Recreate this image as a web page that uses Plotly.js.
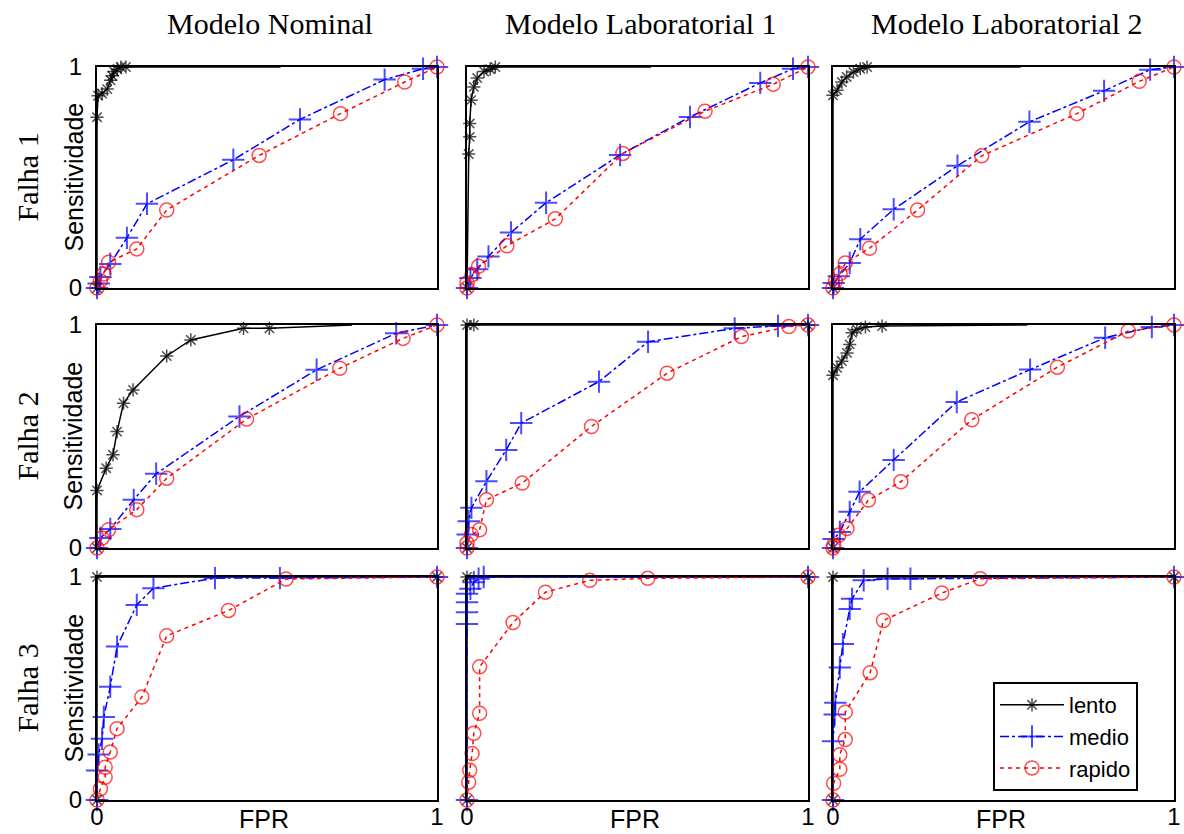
<!DOCTYPE html>
<html>
<head>
<meta charset="utf-8">
<script src="https://cdn.plot.ly/plotly-3.0.1.min.js"></script>
<style>html,body{margin:0;padding:0;background:#fff;}#chart{width:1184px;height:834px;}</style>
</head>
<body>
<div id="chart"></div>
<script>
// ---------- labels ----------
const modelTitles = ["Modelo Nominal", "Modelo Laboratorial 1", "Modelo Laboratorial 2"];
const faultLabels = ["Falha 1", "Falha 2", "Falha 3"];
const seriesNames = ["lento", "medio", "rapido"];
const tickVals = [0, 1];
const tickText = ["0", "1"];
const xTitle = "FPR";
const yTitle = "Sensitividade";

// ---------- data (FPR, Sensitividade) ----------
// Falha 1 - Modelo Nominal
const f1n_lento_x = [0, 0, 0.003, 0.015, 0.03, 0.04, 0.045, 0.05, 0.06, 0.07, 0.085, 0.54];
const f1n_lento_y = [0, 0.773, 0.87, 0.88, 0.90, 0.94, 0.96, 0.98, 0.99, 1, 1, 1];
const f1n_medio_x = [0, 0.005, 0.01, 0.039, 0.088, 0.147, 0.401, 0.597, 0.846, 0.959, 1];
const f1n_medio_y = [0, 0.02, 0.05, 0.109, 0.227, 0.381, 0.580, 0.763, 0.943, 0.992, 1];
const f1n_rapido_x = [0, 0.01, 0.02, 0.034, 0.117, 0.205, 0.477, 0.716, 0.905, 1];
const f1n_rapido_y = [0, 0.033, 0.063, 0.116, 0.177, 0.353, 0.600, 0.789, 0.932, 1];
// Falha 1 - Modelo Laboratorial 1
const f1l1_lento_x = [0, 0.005, 0.008, 0.008, 0.012, 0.02, 0.03, 0.05, 0.068, 0.083, 0.54];
const f1l1_lento_y = [0, 0.606, 0.684, 0.744, 0.85, 0.91, 0.95, 0.98, 0.99, 1, 1];
const f1l1_medio_x = [0, 0.01, 0.03, 0.063, 0.129, 0.232, 0.449, 0.654, 0.860, 0.956, 1];
const f1l1_medio_y = [0, 0.045, 0.085, 0.143, 0.251, 0.386, 0.602, 0.774, 0.928, 0.992, 1];
const f1l1_rapido_x = [0, 0, 0.015, 0.034, 0.117, 0.259, 0.457, 0.698, 0.898, 1];
const f1l1_rapido_y = [0, 0.023, 0.06, 0.098, 0.191, 0.313, 0.609, 0.80, 0.922, 1];
// Falha 1 - Modelo Laboratorial 2
const f1l2_lento_x = [0, 0, 0.012, 0.026, 0.04, 0.06, 0.08, 0.10, 0.55];
const f1l2_lento_y = [0, 0.872, 0.895, 0.932, 0.955, 0.977, 0.992, 1, 1];
const f1l2_medio_x = [0, 0.002, 0.017, 0.049, 0.08, 0.178, 0.365, 0.576, 0.795, 0.93, 1];
const f1l2_medio_y = [0, 0.023, 0.053, 0.113, 0.221, 0.356, 0.553, 0.752, 0.892, 0.988, 1];
const f1l2_rapido_x = [0, 0.007, 0.021, 0.036, 0.107, 0.248, 0.436, 0.715, 0.898, 1];
const f1l2_rapido_y = [0, 0.03, 0.065, 0.113, 0.18, 0.353, 0.598, 0.789, 0.935, 1];
// Falha 2 - Modelo Nominal
const f2n_lento_x = [0, 0, 0.027, 0.047, 0.059, 0.078, 0.106, 0.205, 0.276, 0.431, 0.507, 0.75];
const f2n_lento_y = [0, 0.258, 0.358, 0.418, 0.522, 0.649, 0.709, 0.861, 0.933, 0.985, 0.985, 1];
const f2n_medio_x = [0, 0.01, 0.039, 0.108, 0.174, 0.419, 0.646, 0.88, 1];
const f2n_medio_y = [0, 0.045, 0.085, 0.216, 0.333, 0.59, 0.799, 0.963, 1];
const f2n_rapido_x = [0, 0.015, 0.034, 0.117, 0.205, 0.44, 0.714, 0.90, 1];
const f2n_rapido_y = [0, 0.045, 0.082, 0.172, 0.313, 0.578, 0.806, 0.94, 1];
// Falha 2 - Modelo Laboratorial 1
const f2l1_lento_x = [0, 0, 0.02, 1];
const f2l1_lento_y = [0, 1, 1, 1];
const f2l1_medio_x = [0, 0.002, 0.005, 0.013, 0.057, 0.115, 0.159, 0.387, 0.531, 0.785, 0.912, 1];
const f2l1_medio_y = [0, 0.06, 0.12, 0.18, 0.299, 0.44, 0.56, 0.746, 0.925, 0.985, 0.996, 1];
const f2l1_rapido_x = [0, 0, 0.013, 0.037, 0.057, 0.162, 0.365, 0.587, 0.805, 0.944, 1];
const f2l1_rapido_y = [0, 0.022, 0.06, 0.082, 0.216, 0.291, 0.545, 0.784, 0.948, 0.993, 1];
// Falha 2 - Modelo Laboratorial 2
const f2l2_lento_x = [0, 0, 0.012, 0.026, 0.041, 0.049, 0.056, 0.07, 0.095, 0.144, 0.57];
const f2l2_lento_y = [0, 0.775, 0.808, 0.838, 0.875, 0.913, 0.965, 0.98, 0.991, 0.995, 1];
const f2l2_medio_x = [0, 0.002, 0.02, 0.049, 0.078, 0.178, 0.363, 0.578, 0.798, 0.935, 1];
const f2l2_medio_y = [0, 0.04, 0.072, 0.162, 0.252, 0.395, 0.655, 0.80, 0.943, 0.991, 1];
const f2l2_rapido_x = [0, 0.002, 0.017, 0.041, 0.104, 0.199, 0.407, 0.658, 0.866, 1];
const f2l2_rapido_y = [0, 0.012, 0.057, 0.087, 0.215, 0.297, 0.575, 0.811, 0.973, 1];
// Falha 3 - Modelo Nominal
const f3n_lento_x = [0, 0, 1];
const f3n_lento_y = [0, 1, 1];
const f3n_medio_x = [0, 0, 0.005, 0.015, 0.02, 0.039, 0.059, 0.117, 0.166, 0.347, 0.538, 1];
const f3n_medio_y = [0, 0.132, 0.204, 0.275, 0.372, 0.508, 0.688, 0.875, 0.95, 0.995, 0.995, 1];
const f3n_rapido_x = [0, 0.01, 0.024, 0.024, 0.039, 0.059, 0.132, 0.205, 0.387, 0.556, 1];
const f3n_rapido_y = [0, 0.05, 0.102, 0.147, 0.215, 0.32, 0.462, 0.736, 0.85, 0.991, 1];
// Falha 3 - Modelo Laboratorial 1
const f3l1_lento_x = [0, 0, 1];
const f3l1_lento_y = [0, 1, 1];
const f3l1_medio_x = [0, 0, 0, 0, 0, 0.01, 0.02, 0.034, 0.049, 1];
const f3l1_medio_y = [0, 0.789, 0.842, 0.887, 0.925, 0.947, 0.977, 0.992, 1, 1];
const f3l1_rapido_x = [0, 0.005, 0.008, 0.015, 0.02, 0.037, 0.037, 0.135, 0.23, 0.36, 0.53, 1];
const f3l1_rapido_y = [0, 0.08, 0.133, 0.208, 0.299, 0.389, 0.597, 0.796, 0.932, 0.985, 0.994, 1];
// Falha 3 - Modelo Laboratorial 2
const f3l2_lento_x = [0, 0, 1];
const f3l2_lento_y = [0, 1, 1];
const f3l2_medio_x = [0, 0, 0.005, 0.007, 0.02, 0.029, 0.049, 0.056, 0.09, 0.16, 0.227, 1];
const f3l2_medio_y = [0, 0.263, 0.383, 0.436, 0.594, 0.699, 0.857, 0.902, 0.985, 0.992, 0.992, 1];
const f3l2_rapido_x = [0, 0.002, 0.02, 0.02, 0.036, 0.036, 0.109, 0.148, 0.319, 0.432, 1];
const f3l2_rapido_y = [0, 0.075, 0.138, 0.203, 0.271, 0.394, 0.571, 0.805, 0.928, 0.992, 1];

const panels = [
  [[f1n_lento_x, f1n_lento_y], [f1n_medio_x, f1n_medio_y], [f1n_rapido_x, f1n_rapido_y]],
  [[f1l1_lento_x, f1l1_lento_y], [f1l1_medio_x, f1l1_medio_y], [f1l1_rapido_x, f1l1_rapido_y]],
  [[f1l2_lento_x, f1l2_lento_y], [f1l2_medio_x, f1l2_medio_y], [f1l2_rapido_x, f1l2_rapido_y]],
  [[f2n_lento_x, f2n_lento_y], [f2n_medio_x, f2n_medio_y], [f2n_rapido_x, f2n_rapido_y]],
  [[f2l1_lento_x, f2l1_lento_y], [f2l1_medio_x, f2l1_medio_y], [f2l1_rapido_x, f2l1_rapido_y]],
  [[f2l2_lento_x, f2l2_lento_y], [f2l2_medio_x, f2l2_medio_y], [f2l2_rapido_x, f2l2_rapido_y]],
  [[f3n_lento_x, f3n_lento_y], [f3n_medio_x, f3n_medio_y], [f3n_rapido_x, f3n_rapido_y]],
  [[f3l1_lento_x, f3l1_lento_y], [f3l1_medio_x, f3l1_medio_y], [f3l1_rapido_x, f3l1_rapido_y]],
  [[f3l2_lento_x, f3l2_lento_y], [f3l2_medio_x, f3l2_medio_y], [f3l2_rapido_x, f3l2_rapido_y]]
];

// ---------- styles ----------
const W = 1184, H = 834;
const colPx = [[97, 437], [467, 808], [833, 1174]];
const rowPx = [[67, 288], [325, 548], [577, 800]];
const markerSizes = [11, 16, 14];
const styles = [
  {line: {color: "black", width: 1.5, dash: "solid"}, marker: {symbol: "asterisk-open", color: "black", line: {width: 1.5, color: "black"}}},
  {line: {color: "blue", width: 1.5, dash: "dashdot"}, marker: {symbol: "cross-thin-open", color: "blue", line: {width: 2, color: "blue"}}},
  {line: {color: "red", width: 1.5, dash: "4px,4px"}, marker: {symbol: "circle-open", color: "red", line: {width: 1.5, color: "red"}}}
];

const sansF = "Liberation Sans, Arial, sans-serif";
const serifF = "Liberation Serif, Times New Roman, serif";

const traces = [];
const layout = {
  width: W, height: H,
  margin: {l: 0, r: 0, t: 0, b: 0},
  paper_bgcolor: "white", plot_bgcolor: "white",
  showlegend: true,
  legend: {
    x: 993 / W, y: 1 - 682 / H, xanchor: "left", yanchor: "top",
    bordercolor: "black", borderwidth: 2, bgcolor: "white",
    font: {family: sansF, size: 22, color: "black"},
    tracegroupgap: 0, itemwidth: 64
  },
  annotations: []
};

for (let r = 0; r < 3; r++) {
  for (let c = 0; c < 3; c++) {
    const idx = r * 3 + c;
    const n = idx === 0 ? "" : String(idx + 1);
    const xa = "x" + n, ya = "y" + n;
    const xdom = [colPx[c][0] / W, colPx[c][1] / W];
    const ydom = [1 - rowPx[r][1] / H, 1 - rowPx[r][0] / H];
    layout["xaxis" + n] = {
      domain: xdom, anchor: ya, range: [0, 1],
      showline: true, mirror: true, linecolor: "black", linewidth: 2,
      showgrid: false, zeroline: false, ticks: "",
      tickvals: tickVals, ticktext: tickText, showticklabels: r === 2,
      ticklabelstandoff: -6,
      tickfont: {family: sansF, size: 24, color: "black"}
    };
    layout["yaxis" + n] = {
      domain: ydom, anchor: xa, range: [0, 1],
      showline: true, mirror: true, linecolor: "black", linewidth: 2,
      showgrid: false, zeroline: false, ticks: "",
      tickvals: tickVals, ticktext: tickText, showticklabels: c === 0,
      ticklabelstandoff: 8,
      tickfont: {family: sansF, size: 24, color: "black"}
    };
    for (let s = 0; s < 3; s++) {
      const xs = panels[idx][s][0], ys = panels[idx][s][1];
      // the slow-series line runs on past its last marked threshold without a marker
      const sizes = xs.map((v, i) => (s === 0 && i === xs.length - 1 && v < 1) ? 0 : markerSizes[s]);
      traces.push({
        type: "scatter", mode: "lines+markers",
        x: xs, y: ys,
        xaxis: xa, yaxis: ya,
        name: seriesNames[s], legendgroup: seriesNames[s],
        showlegend: idx === 8,
        cliponaxis: false,
        line: styles[s].line,
        marker: Object.assign({}, styles[s].marker, {size: sizes})
      });
    }
  }
}

for (let c = 0; c < 3; c++) {
  const cx = (colPx[c][0] + colPx[c][1]) / 2;
  layout.annotations.push({
    text: modelTitles[c], xref: "paper", yref: "paper",
    x: (cx + 3) / W, y: 1 - 23 / H, xanchor: "center", yanchor: "middle",
    showarrow: false, font: {family: serifF, size: 30, color: "black"}
  });
  layout.annotations.push({
    text: xTitle, xref: "paper", yref: "paper",
    x: (cx - 3) / W, y: 1 - 819 / H, xanchor: "center", yanchor: "middle",
    showarrow: false, font: {family: sansF, size: 25, color: "black"}
  });
}
for (let r = 0; r < 3; r++) {
  const cy = (rowPx[r][0] + rowPx[r][1]) / 2;
  layout.annotations.push({
    text: faultLabels[r], xref: "paper", yref: "paper",
    x: 27 / W, y: 1 - cy / H, xanchor: "center", yanchor: "middle",
    textangle: -90, showarrow: false, font: {family: serifF, size: 30, color: "black"}
  });
  layout.annotations.push({
    text: yTitle, xref: "paper", yref: "paper",
    x: 73 / W, y: 1 - cy / H, xanchor: "center", yanchor: "middle",
    textangle: -90, showarrow: false, font: {family: sansF, size: 25, color: "black"}
  });
}

Plotly.newPlot("chart", traces, layout, {staticPlot: true, displayModeBar: false});
</script>
</body>
</html>
